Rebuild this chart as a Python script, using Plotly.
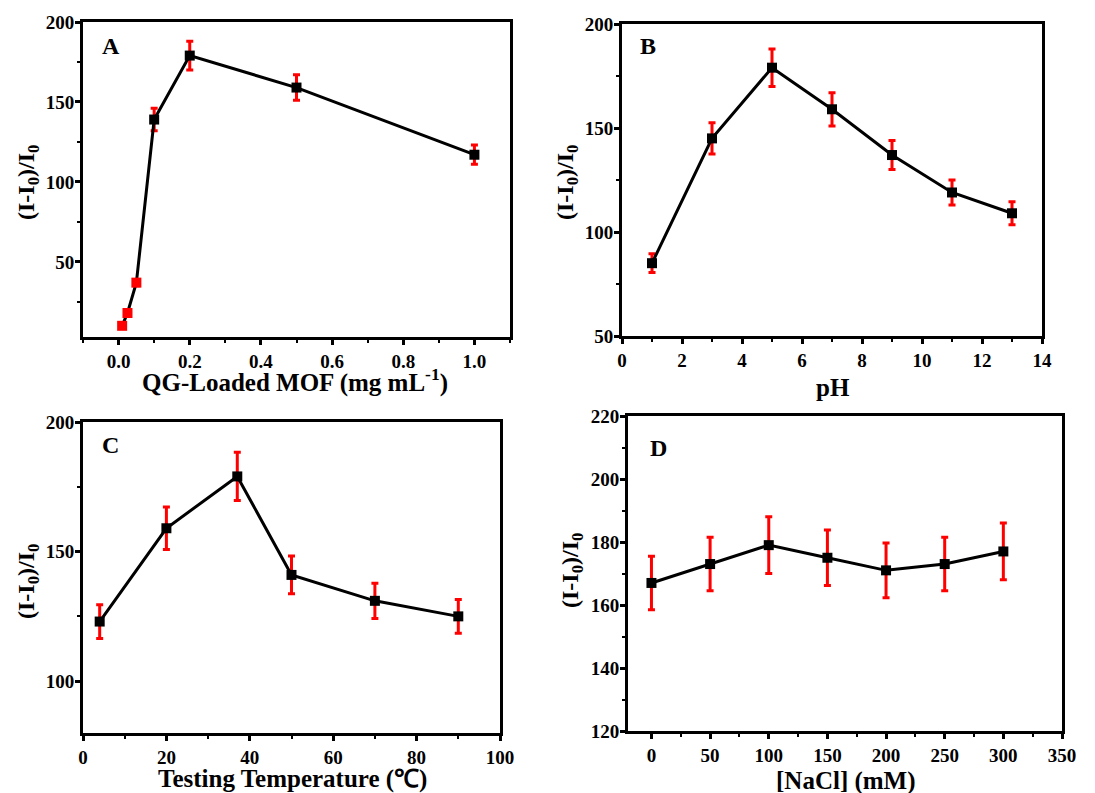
import plotly.graph_objects as go

# Panel A
a_x = [0.01, 0.025, 0.05, 0.1, 0.2, 0.5, 1.0]
a_y = [10, 18, 37, 139, 179, 159, 117]
a_err = [1, 1, 2, 7, 9, 8, 6]
a_colors = ["red", "red", "red", "black", "black", "black", "black"]

# Panel B
b_x = [1, 3, 5, 7, 9, 11, 13]
b_y = [85, 145, 179, 159, 137, 119, 109]
b_err = [4.5, 7.5, 9, 8, 7, 6, 5.5]

# Panel C
c_x = [4, 20, 37, 50, 70, 90]
c_y = [123, 159, 179, 141, 131, 125]
c_err = [6.5, 8.2, 9.3, 7.3, 6.8, 6.5]

# Panel D
d_x = [0, 50, 100, 150, 200, 250, 300]
d_y = [167, 173, 179, 175, 171, 173, 177]
d_err = [8.5, 8.5, 9, 8.8, 8.7, 8.5, 9]

W, H = 1095, 793
FONT = "Liberation Serif"

def px(x):
    return x / W

def py(y):
    return 1 - y / H

def dom_x(l, r):
    return [px(l), px(r)]

def dom_y(t, b):
    return [py(b), py(t)]

fig = go.Figure()

panels = [
    ("x", "y", a_x, a_y, a_err, a_colors),
    ("x2", "y2", b_x, b_y, b_err, "black"),
    ("x3", "y3", c_x, c_y, c_err, "black"),
    ("x4", "y4", d_x, d_y, d_err, "black"),
]
for xa, ya, xs, ys, es, col in panels:
    fig.add_trace(go.Scatter(
        x=xs, y=ys, xaxis=xa, yaxis=ya, mode="lines+markers",
        line=dict(color="black", width=3),
        marker=dict(symbol="square", size=10, color=col),
        error_y=dict(type="data", array=es, visible=True, color="red", thickness=3, width=3.5),
        showlegend=False,
    ))

tickfont = dict(family=FONT, size=19, color="black", weight="bold")
titlefont = dict(family=FONT, size=25, color="black", weight="bold")
ytitlefont = dict(family=FONT, size=24, color="black", weight="bold")

def xaxis(domain, rng, dtick, minor, anchor, fmt=None):
    d = dict(domain=domain, range=rng, dtick=dtick, tick0=0, anchor=anchor, automargin=False,
             showline=True, linecolor="black", linewidth=3, mirror=True,
             ticks="outside", ticklen=5, tickwidth=2.5, tickcolor="black",
             minor=dict(dtick=minor, ticks="outside", ticklen=3, tickwidth=2, tickcolor="black"),
             showgrid=False, zeroline=False, tickfont=tickfont)
    if fmt:
        d["tickformat"] = fmt
    return d

def yaxis(domain, rng, dtick, minor, anchor):
    return dict(domain=domain, range=rng, dtick=dtick, tick0=0, anchor=anchor, automargin=False,
                showline=True, linecolor="black", linewidth=3, mirror=True,
                ticks="outside", ticklen=5, tickwidth=2.5, tickcolor="black",
                ticklabelstandoff=-3,
                minor=dict(dtick=minor, ticks="outside", ticklen=3, tickwidth=2, tickcolor="black"),
                showgrid=False, zeroline=False, tickfont=tickfont)

fig.update_layout(
    width=W, height=H, plot_bgcolor="white", paper_bgcolor="white",
    margin=dict(l=0, r=0, t=0, b=0, autoexpand=False),
    xaxis=xaxis(dom_x(83, 510), [-0.1, 1.1], 0.2, 0.1, "y", fmt=".1f"),
    yaxis=yaxis(dom_y(22, 337), [3, 200], 50, 25, "x"),
    xaxis2=xaxis(dom_x(622, 1042), [0, 14], 2, 1, "y2"),
    yaxis2=yaxis(dom_y(24, 336), [50, 200], 50, 25, "x2"),
    xaxis3=xaxis(dom_x(83, 500), [0, 100], 20, 10, "y3"),
    yaxis3=yaxis(dom_y(422, 733), [80, 200], 50, 25, "x3"),
    xaxis4=xaxis(dom_x(628, 1062), [-20, 350], 50, 25, "y4"),
    yaxis4=yaxis(dom_y(416, 731), [120, 220], 20, 10, "x4"),
)

YT = "(I-I<sub>0</sub>)/I<sub>0</sub>"
x_titles = [("QG-Loaded MOF (mg mL<sup>-1</sup>)", 295, 380), ("pH", 833, 387),
            ("Testing Temperature (℃)", 292, 779), ("[NaCl] (mM)", 846, 781)]
for txt, x0, y0 in x_titles:
    fig.add_annotation(text=txt, x=px(x0), y=py(y0), xref="paper", yref="paper",
                       showarrow=False, xanchor="center", yanchor="middle", font=titlefont)

y_titles = [(28, 183), (567, 183), (28, 582), (572, 571)]
for x0, y0 in y_titles:
    fig.add_annotation(text=YT, x=px(x0), y=py(y0), xref="paper", yref="paper", textangle=-90,
                       showarrow=False, xanchor="center", yanchor="middle", font=ytitlefont)

labels = [("A", 100, 46), ("B", 638, 46), ("C", 100, 445), ("D", 648, 448)]
for txt, x0, y0 in labels:
    fig.add_annotation(text=txt, x=px(x0), y=py(y0), xref="paper", yref="paper",
                       showarrow=False, xanchor="left", yanchor="middle",
                       font=dict(family=FONT, size=24, color="black", weight="bold"))

# remove the default page margin so the figure fills the window exactly
fig.write_html("out.html", config={"displayModeBar": False},
               post_script="document.body.style.margin='0';")
